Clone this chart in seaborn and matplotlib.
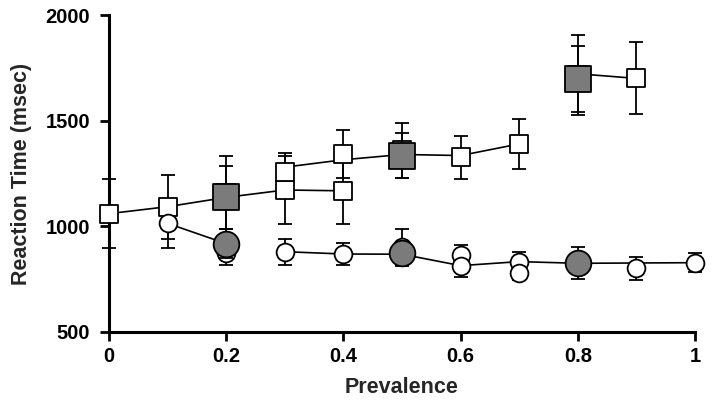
import matplotlib
matplotlib.use("Agg")
import matplotlib.pyplot as plt
import seaborn as sns
import pandas as pd

# ---------------- data ----------------
# connecting lines (open symbols series)
sqA_x = [0, 0.1, 0.2, 0.3, 0.4]
sqA_y = [1060, 1093, 1137, 1172, 1168]
sqB_x = [0.3, 0.4, 0.5, 0.6, 0.7]
sqB_y = [1280, 1315, 1340, 1335, 1390]
sqC_x = [0.8, 0.9]
sqC_y = [1722, 1700]
ciA_x = [0.1, 0.2]
ciA_y = [1014, 918]
ciB_x = [0.3, 0.4, 0.5, 0.6, 0.7, 0.8, 1.0]
ciB_y = [880, 869, 868, 814, 833, 825, 828]

# open squares
sq_open_x = [0, 0.1, 0.2, 0.3, 0.3, 0.4, 0.4, 0.5, 0.6, 0.7, 0.8, 0.9]
sq_open_y = [1060, 1093, 1160, 1172, 1255, 1168, 1342, 1360, 1326, 1390, 1715, 1700]
sq_open_err = [162, 151, 175, 160, 90, 158, 114, 130, 103, 120, 190, 170]
# filled squares
sq_fill_x = [0.2, 0.5, 0.8]
sq_fill_y = [1137, 1335, 1698]
sq_fill_err = [150, 105, 155]
# open circles
ci_open_x = [0.1, 0.2, 0.3, 0.4, 0.5, 0.6, 0.6, 0.7, 0.7, 0.9, 1.0]
ci_open_y = [1014, 875, 880, 869, 900, 866, 814, 833, 778, 801, 828]
ci_open_err = [117, 58, 62, 50, 86, 45, 55, 44, 30, 53, 44]
# filled circles
ci_fill_x = [0.2, 0.5, 0.8]
ci_fill_y = [918, 872, 825]
ci_fill_err = [68, 55, 75]

x_ticks = [0, 0.2, 0.4, 0.6, 0.8, 1]
x_labels = ["0", "0.2", "0.4", "0.6", "0.8", "1"]
y_ticks = [500, 1000, 1500, 2000]

# ---------------- style ----------------
sns.set_style("ticks")
plt.rcParams["font.family"] = ["Liberation Sans", "DejaVu Sans"]
plt.rcParams["font.weight"] = "bold"

fig = plt.figure(figsize=(7.14, 4.09), dpi=100)
ax = fig.add_axes([0.1527, 0.1883, 0.8207, 0.775])

GRAY = "#7b7b7b"
LW = 1.2

# lines
for lx, ly in [(sqA_x, sqA_y), (sqB_x, sqB_y), (sqC_x, sqC_y), (ciA_x, ciA_y), (ciB_x, ciB_y)]:
    df = pd.DataFrame({"x": lx, "y": ly})
    sns.lineplot(data=df, x="x", y="y", ax=ax, color="black", linewidth=LW,
                 sort=False, estimator=None, zorder=1)

# error bars of open symbols
ax.errorbar(sq_open_x, sq_open_y, yerr=sq_open_err, fmt="none", ecolor="black",
            elinewidth=1.3, capsize=5, capthick=1.3, zorder=2, clip_on=False)
ax.errorbar(ci_open_x, ci_open_y, yerr=ci_open_err, fmt="none", ecolor="black",
            elinewidth=1.3, capsize=5, capthick=1.3, zorder=2, clip_on=False)

# open markers
sns.scatterplot(x=sq_open_x, y=sq_open_y, ax=ax, marker="s", s=12.6 ** 2,
                color="white", edgecolor="black", linewidth=1.3, zorder=3, clip_on=False)
sns.scatterplot(x=ci_open_x, y=ci_open_y, ax=ax, marker="o", s=12.8 ** 2,
                color="white", edgecolor="black", linewidth=1.3, zorder=3, clip_on=False)

# error bars of filled symbols
ax.errorbar(sq_fill_x, sq_fill_y, yerr=sq_fill_err, fmt="none", ecolor="black",
            elinewidth=1.3, capsize=5, capthick=1.3, zorder=4, clip_on=False)
ax.errorbar(ci_fill_x, ci_fill_y, yerr=ci_fill_err, fmt="none", ecolor="black",
            elinewidth=1.3, capsize=5, capthick=1.3, zorder=4, clip_on=False)

# filled markers
sns.scatterplot(x=sq_fill_x, y=sq_fill_y, ax=ax, marker="s", s=18.5 ** 2,
                color=GRAY, edgecolor="black", linewidth=1.3, zorder=5, clip_on=False)
sns.scatterplot(x=ci_fill_x, y=ci_fill_y, ax=ax, marker="o", s=18.5 ** 2,
                color=GRAY, edgecolor="black", linewidth=1.3, zorder=5, clip_on=False)

# axes
ax.set_xlim(0, 1)
ax.set_ylim(500, 2000)
ax.set_xticks(x_ticks)
ax.set_xticklabels(x_labels)
ax.set_yticks(y_ticks)
sns.despine(ax=ax)
for side in ["left", "bottom"]:
    ax.spines[side].set_linewidth(2.2)
    ax.spines[side].set_color("black")
ax.tick_params(axis="both", direction="out", length=6.5, width=2, color="black",
               labelsize=14.5, labelcolor="black")
ax.tick_params(axis="y", pad=7)
ax.tick_params(axis="x", pad=4)
for lab in ax.get_xticklabels() + ax.get_yticklabels():
    lab.set_fontweight("bold")

ax.set_xlabel("Prevalence", fontsize=15.5, fontweight="bold", labelpad=8)
ax.set_ylabel("Reaction Time (msec)", fontsize=15.5, fontweight="bold", labelpad=10)

fig.savefig("out.png", dpi=100)
